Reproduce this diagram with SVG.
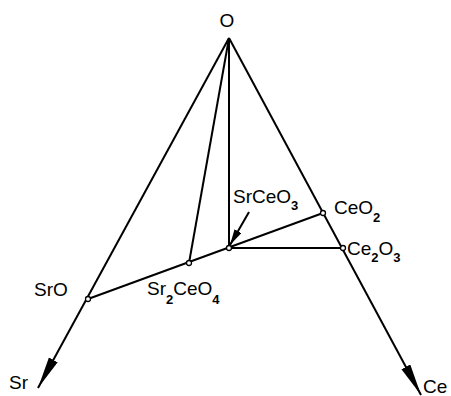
<svg xmlns="http://www.w3.org/2000/svg" width="451" height="396" viewBox="0 0 451 396">
<defs>
<style>
.ln{stroke:#000;stroke-width:2;fill:none}
.pt{fill:#fff;stroke:#000;stroke-width:1.3}
.t{font-family:"Liberation Sans",Arial,sans-serif;font-size:19px;fill:#000}
.s{font-family:"Liberation Sans",Arial,sans-serif;font-size:13px;font-weight:bold;fill:#000}
</style>
<marker id="big" markerUnits="userSpaceOnUse" markerWidth="34" markerHeight="12" refX="32" refY="5" orient="auto">
<path d="M0,0 L32,5 L0,10 z" fill="#000"/>
</marker>
<marker id="small" markerUnits="userSpaceOnUse" markerWidth="18" markerHeight="10" refX="16" refY="4" orient="auto">
<path d="M0,0 L16,4 L0,8 z" fill="#000"/>
</marker>
</defs>
<g id="connectors">
<line class="ln" x1="229" y1="38" x2="38" y2="388" marker-end="url(#big)"/>
<line class="ln" x1="229" y1="38" x2="421" y2="395" marker-end="url(#big)"/>
<line class="ln" x1="229" y1="38" x2="229" y2="248"/>
<line class="ln" x1="229" y1="38" x2="189" y2="263"/>
<line class="ln" x1="88" y1="299" x2="323" y2="213"/>
<line class="ln" x1="229" y1="248" x2="343" y2="248"/>
<line class="ln" x1="249" y1="212" x2="230" y2="245" stroke-width="1.5" marker-end="url(#small)"/>
</g>
<g id="O"><text class="t" x="227" y="27" text-anchor="middle">O</text></g>
<g id="Sr"><text class="t" x="9" y="389">Sr</text></g>
<g id="Ce"><text class="t" x="423" y="393">Ce</text></g>
<g id="SrO"><circle class="pt" cx="88" cy="299" r="2.5"/><text class="t" x="34" y="296">SrO</text></g>
<g id="Sr2CeO4"><circle class="pt" cx="189" cy="263" r="2.5"/><text class="t" x="147" y="295">Sr<tspan class="s" dy="9">2</tspan><tspan dy="-9">CeO</tspan><tspan class="s" dy="9">4</tspan></text></g>
<g id="SrCeO3"><circle class="pt" cx="229" cy="248" r="2.5"/><text class="t" x="233" y="203">SrCeO<tspan class="s" dy="7">3</tspan></text></g>
<g id="CeO2"><circle class="pt" cx="323" cy="213" r="2.5"/><text class="t" x="334" y="214">CeO<tspan class="s" dy="8">2</tspan></text></g>
<g id="Ce2O3"><circle class="pt" cx="343" cy="248" r="2.5"/><text class="t" x="347" y="255">Ce<tspan class="s" dy="7">2</tspan><tspan dy="-7">O</tspan><tspan class="s" dy="7">3</tspan></text></g>
</svg>
